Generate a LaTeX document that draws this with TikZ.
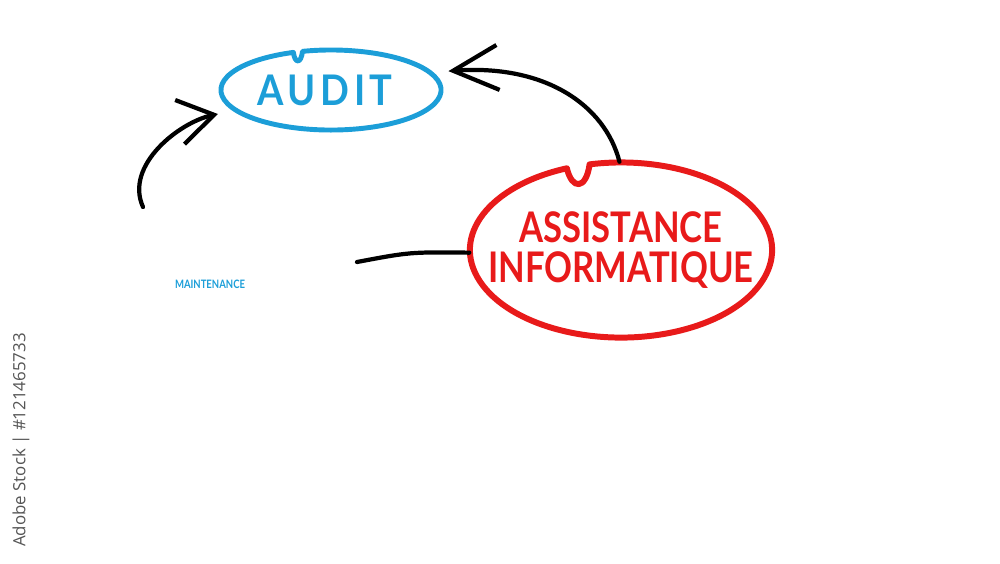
\documentclass[tikz,border=0pt]{standalone}
\usepackage{fontspec}
\setmainfont{Lato}
\newfontfamily\handfont[FakeStretch=0.82]{Lato}
\newfontfamily\wideFont[FakeStretch=0.9, LetterSpace=11]{Lato}
\newfontfamily\stockfont{Open Sans}
\usepackage{tikz}
\usetikzlibrary{positioning, arrows.meta, shapes}
\definecolor{auditblue}{RGB}{28,158,216}
\definecolor{assistred}{RGB}{232,26,26}
\definecolor{stockgray}{RGB}{85,85,85}

\begin{document}
\begin{tikzpicture}[x=0.01cm, y=-0.01cm,
			font=\handfont\bfseries,
			bubble/.style={ellipse, inner xsep=-1cm, inner ysep=0pt},
			link/.style={line width=1.2pt, line cap=round},
			rim/.style={line cap=round, line join=round}]
			
			\useasboundingbox (0,0) rectangle (1000,563);
			
			\node[bubble, text=auditblue, minimum width=2.2cm, minimum height=0.8cm, font=\wideFont\bfseries\fontsize{12}{12}\selectfont] (audit) at (331,90) {\hspace*{-0.12cm}AUDIT};
			\draw[rim, auditblue, line width=1.4pt] ([shift={(110:1.1cm and 0.4cm)}]audit.center) arc[start angle=110, end angle=465, x radius=1.1cm, y radius=0.4cm] .. controls (301,64) and (295,64) .. cycle;
			
			\node[bubble, text=assistred, minimum width=3.02cm, minimum height=1.75cm, align=center, font=\handfont\bfseries\fontsize{12}{11.5}\selectfont] (assist) at (621,250) {ASSISTANCE\\INFORMATIQUE};
			\draw[rim, assistred, line width=1.7pt] ([shift={(111:1.51cm and 0.875cm)}]assist.center) arc[start angle=111, end angle=462, x radius=1.51cm, y radius=0.875cm] .. controls (586,190) and (572,190) .. cycle;
			
			\node[text=auditblue, font=\handfont\bfseries\fontsize{3.3}{3.3}\selectfont] (maint) at (210,284) {MAINTENANCE};
			\node[rotate=90, text=stockgray, font=\stockfont\fontsize{4.8}{4.8}\selectfont] (stock) at (21,440) {Adobe Stock | \#121465733};
			
			\coordinate (leftend) at (143,207);
			\coordinate (mainend) at (357,262);
			
			\draw[link, -{Straight Barb[length=3.5mm, width=4.5mm]}, shorten >=5pt] (leftend) .. controls (124,165) and (180,122) .. (audit.192);
			\draw[link, -{Straight Barb[length=4.5mm, width=4.5mm]}, shorten >=5pt] (assist.91) .. controls (605,105) and (545,64) .. (audit.10);
			\draw[link] (mainend) .. controls (410,252) .. (assist.181);
		\end{tikzpicture}
\end{document}
